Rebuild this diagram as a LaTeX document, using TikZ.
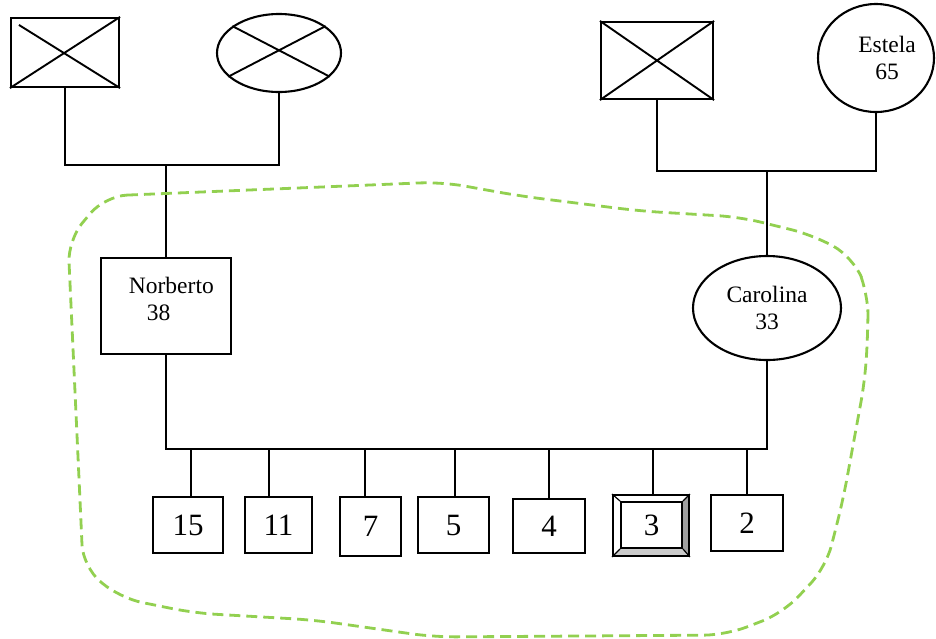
\documentclass[tikz,border=0pt]{standalone}
\usepackage{fontspec}
\setmainfont{Liberation Serif}
\usetikzlibrary{shapes.geometric}
\usetikzlibrary{backgrounds}
\definecolor{hullgreen}{RGB}{146,208,80}

\begin{document}
\begin{tikzpicture}[x=1pt,y=-1pt,line width=1.9pt,
    person/.style={draw,line width=2.1pt,inner sep=0pt},
    male/.style={person,rectangle},
    female/.style={person,ellipse},
    kid/.style={draw,line width=1.9pt,inner sep=0pt,minimum height=56pt,font=\fontsize{31}{34}\selectfont},
    nametext/.style={font=\fontsize{23.5}{27}\selectfont,inner sep=0pt,align=center}]
    \useasboundingbox (0,0) rectangle (936,638);
    \node[male,minimum width=108pt,minimum height=69pt] (gf1) at (65,52.5) {};
    \node[female,minimum width=124pt,minimum height=78pt] (gm1) at (279,53) {};
    \node[male,minimum width=112pt,minimum height=77pt] (gf2) at (657,60.5) {};
    \node[female,minimum width=116pt,minimum height=108pt] (estela) at (876,58) {};
    \node[nametext] (estelaTxt) at (887,58) {Estela\\65};
    \node[male,minimum width=130pt,minimum height=96pt] (norberto) at (166,306) {};
    \node[nametext,anchor=north west,align=left] (norbertoTxt) at (128,276) {Norberto\\\hspace*{18pt}38};
    \node[female,nametext,minimum width=148pt,minimum height=104pt] (carolina) at (767,308) {Carolina\\33};
    \draw (gf1.south west) -- (gf1.north east) ([shift={(9,8)}]gf1.north west) -- (gf1.south east);
    \draw (gm1.150) -- (gm1.-25) (gm1.205) -- (gm1.30);
    \draw (gf2.south west) -- (gf2.north east) (gf2.north west) -- (gf2.south east);
    \coordinate (m1) at (166,165);
    \coordinate (m2) at (767,171);
    \coordinate (bus) at (467,449);
    \draw (gf1.south) |- (m1) -| (gm1.south);
    \draw (m1) -- (norberto.north);
    \draw (gf2.south) |- (m2) -| (estela.south);
    \draw (m2) -- (carolina.north);
    \draw (norberto.south) |- (bus) -| (carolina.south);
    \node[kid,minimum width=70pt] (c15) at (188,525) {15};
    \node[kid,minimum width=67pt] (c11) at (278.5,525) {11};
    \node[kid,minimum width=61pt,minimum height=59pt] (c7) at (370.5,526.5) {7};
    \node[kid,minimum width=71pt] (c5) at (453.5,525) {5};
    \node[kid,minimum width=72pt,minimum height=54pt] (c4) at (549,526) {4};
    \node[kid,minimum width=76pt,minimum height=61pt] (c3) at (651,525.5) {};
    \node[kid,minimum width=61pt,minimum height=46pt] (c3in) at (651.5,525) {3};
    \node[kid,minimum width=72pt] (c2) at (747,523) {2};
    \begin{scope}[on background layer]
        \fill[gray!75] (c3.north east) -- (c3.south east) -- (c3in.south east) -- (c3in.north east) -- cycle;
        \fill[gray!40] (c3.south west) -- (c3.south east) -- (c3in.south east) -- (c3in.south west) -- cycle;
    \end{scope}
    \draw[line width=1.2pt] (c3.north west) -- (c3in.north west) (c3.north east) -- (c3in.north east)
        (c3.south west) -- (c3in.south west) (c3.south east) -- (c3in.south east);
    \foreach \k/\dx in {c15/3,c11/-9.5,c7/-5.5,c5/1.5,c4/0,c3/2,c2/0}
        \draw ([xshift=\dx pt]\k.north) -- ([xshift=\dx pt]\k.north |- bus);
    \draw[hullgreen,line width=2.8pt,dash pattern=on 11pt off 6pt,rounded corners=22pt]
        (105,196) -- (442,182) -- (520,196) -- (640,211) -- (740,217) -- (813,235) -- (853,257)
        -- (868,293) -- (868,330) -- (865,380) -- (843,500) -- (826,567) -- (783,613) -- (726,635)
        -- (434,637) -- (314,620) -- (194,613) -- (120,598) -- (83,567) -- (80,500) -- (68,240) -- cycle;
\end{tikzpicture}
\end{document}
